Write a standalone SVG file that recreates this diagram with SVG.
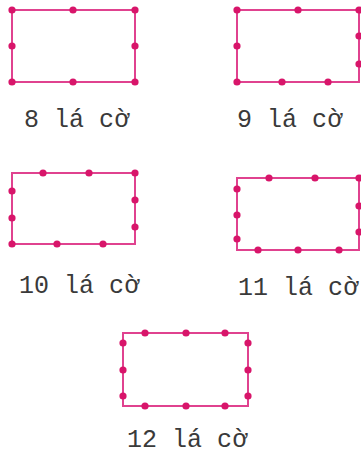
<svg xmlns="http://www.w3.org/2000/svg" width="361" height="454" viewBox="0 0 361 454">
<style>
.r{fill:none;stroke:#e0428f;stroke-width:2}
.d{fill:#d8156a}
.t{font-family:"Liberation Mono","Courier New",monospace;font-size:25px;fill:#3a3a3a}
</style>
<rect width="361" height="454" fill="#fff"/>
<g id="n8">
<rect class="r" x="12" y="10" width="123" height="72"/>
<g class="d">
<circle cx="12" cy="10" r="3.6"/><circle cx="73" cy="10" r="3.6"/><circle cx="135" cy="10" r="3.6"/>
<circle cx="12" cy="46" r="3.6"/><circle cx="135" cy="46" r="3.6"/>
<circle cx="12" cy="82" r="3.6"/><circle cx="73" cy="82" r="3.6"/><circle cx="135" cy="82" r="3.6"/>
</g>
<text class="t" x="24" y="127">8 lá cờ</text>
</g>
<g id="n9">
<rect class="r" x="237" y="10" width="122" height="72"/>
<g class="d">
<circle cx="237" cy="10" r="3.6"/><circle cx="298" cy="10" r="3.6"/><circle cx="359" cy="10" r="3.6"/>
<circle cx="237" cy="46" r="3.6"/>
<circle cx="359" cy="36" r="3.6"/><circle cx="359" cy="64" r="3.6"/>
<circle cx="237" cy="82" r="3.6"/><circle cx="282" cy="82" r="3.6"/><circle cx="328" cy="82" r="3.6"/>
</g>
<text class="t" x="237" y="127">9 lá cờ</text>
</g>
<g id="n10">
<rect class="r" x="12" y="173" width="123" height="71"/>
<g class="d">
<circle cx="43" cy="173" r="3.6"/><circle cx="89" cy="173" r="3.6"/><circle cx="135" cy="173" r="3.6"/>
<circle cx="12" cy="191" r="3.6"/><circle cx="12" cy="218" r="3.6"/>
<circle cx="135" cy="200" r="3.6"/><circle cx="135" cy="227" r="3.6"/>
<circle cx="12" cy="244" r="3.6"/><circle cx="57" cy="244" r="3.6"/><circle cx="103" cy="244" r="3.6"/>
</g>
<text class="t" x="19" y="293">10 lá cờ</text>
</g>
<g id="n11">
<rect class="r" x="237" y="178" width="122" height="72"/>
<g class="d">
<circle cx="269" cy="178" r="3.6"/><circle cx="315" cy="178" r="3.6"/><circle cx="359" cy="178" r="3.6"/>
<circle cx="237" cy="189" r="3.6"/><circle cx="237" cy="215" r="3.6"/><circle cx="237" cy="239" r="3.6"/>
<circle cx="359" cy="206" r="3.6"/><circle cx="359" cy="232" r="3.6"/>
<circle cx="258" cy="250" r="3.6"/><circle cx="298" cy="250" r="3.6"/><circle cx="339" cy="250" r="3.6"/>
</g>
<text class="t" x="238" y="295">11 lá cờ</text>
</g>
<g id="n12">
<rect class="r" x="123" y="333" width="125" height="73"/>
<g class="d">
<circle cx="145" cy="333" r="3.6"/><circle cx="186" cy="333" r="3.6"/><circle cx="225" cy="333" r="3.6"/>
<circle cx="123" cy="343" r="3.6"/><circle cx="123" cy="370" r="3.6"/><circle cx="123" cy="396" r="3.6"/>
<circle cx="248" cy="343" r="3.6"/><circle cx="248" cy="370" r="3.6"/><circle cx="248" cy="396" r="3.6"/>
<circle cx="145" cy="406" r="3.6"/><circle cx="186" cy="406" r="3.6"/><circle cx="225" cy="406" r="3.6"/>
</g>
<text class="t" x="127" y="447">12 lá cờ</text>
</g>
<g id="connectors"/>
</svg>
